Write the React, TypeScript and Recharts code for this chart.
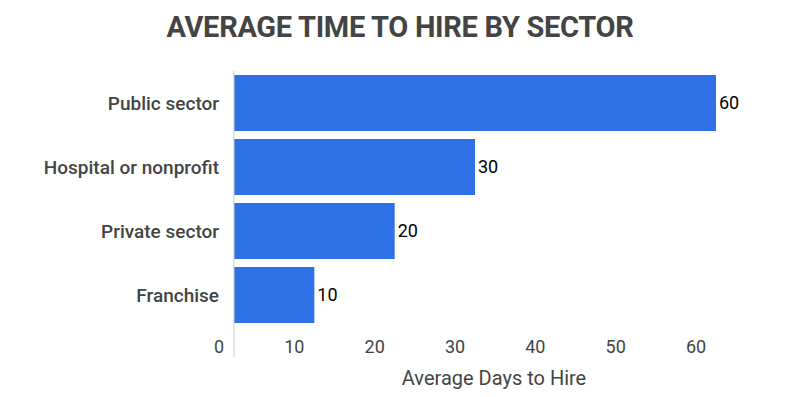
import { BarChart, Bar, XAxis, YAxis, LabelList } from "recharts";

const sectors = ["Public sector", "Hospital or nonprofit", "Private sector", "Franchise"];
const days = [60, 30, 20, 10];
const xTicks = [0, 10, 20, 30, 40, 50, 60];

const data = sectors.map((name, i) => ({ name, days: days[i] }));

// 원본의 눈금 글자는 막대 위치보다 왼쪽으로 밀려 있음 (0 은 조금 덜)
const XTick = ({ x, y, payload }: any) => (
    <text
        x={x + (payload.value === 0 ? -15 : -20)}
        y={y}
        dy={-12}
        textAnchor="middle"
        fill="#444"
        fontSize={18}
    >
        {payload.value}
    </text>
);

const App = () => (
    <div
        style={{
            position: "absolute",
            left: 0,
            top: 0,
            width: 800,
            height: 397,
            background: "#fff",
            fontFamily: "Roboto",
        }}
    >
        <div
            style={{
                position: "absolute",
                top: 10,
                width: 800,
                textAlign: "center",
                fontSize: 29,
                fontWeight: 700,
                color: "#444",
                letterSpacing: -0.3,
            }}
        >
            AVERAGE TIME TO HIRE BY SECTOR
        </div>
        <BarChart
            width={800}
            height={397}
            data={data}
            layout="vertical"
            margin={{ top: 71, right: 84, left: 0, bottom: 10 }}
        >
            <XAxis
                type="number"
                domain={[0, 60]}
                ticks={xTicks}
                axisLine={false}
                tickLine={false}
                height={30}
                tick={<XTick />}
                label={{
                    value: "Average Days to Hire",
                    position: "bottom",
                    offset: -16,
                    dx: 19,
                    fill: "#444",
                    fontSize: 20,
                }}
            />
            <YAxis
                type="category"
                dataKey="name"
                width={234}
                padding={{ top: 0, bottom: 30 }}
                axisLine={{ stroke: "#ccc" }}
                tickLine={false}
                tickSize={0}
                tickMargin={15}
                tick={{ fill: "#444", fontSize: 19, fontWeight: 500 }}
            />
            <Bar dataKey="days" fill="#2F72E8" barSize={56} isAnimationActive={false}>
                <LabelList dataKey="days" position="right" offset={3} fill="#000" fontSize={18} />
            </Bar>
        </BarChart>
    </div>
);

export default App;
